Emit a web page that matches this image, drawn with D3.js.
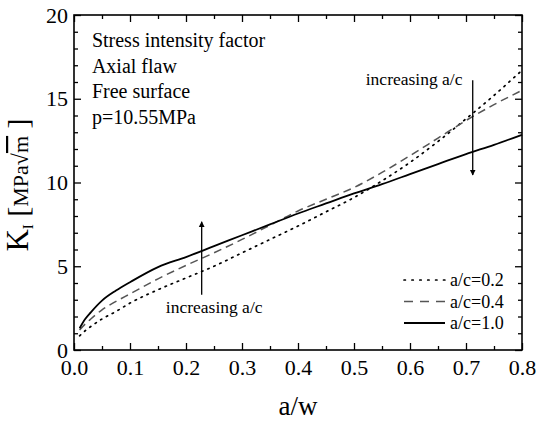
<!DOCTYPE html>
<html lang="en">
<head>
	<meta charset="UTF-8">
	<title>Stress intensity factor - axial flaw</title>
	<script src="https://cdn.jsdelivr.net/npm/d3@7/dist/d3.min.js"></script>
	<style>
		body { margin: 0; background: #fff; }
		svg text { font-family: "Liberation Serif", "Times New Roman", serif; fill: #000; }
	</style>
</head>
<body>
	<div id="container"></div>

	<script>

		// a/w positions and K_I values
		var aw = [0.01, 0.02, 0.03, 0.05, 0.075, 0.1, 0.15, 0.2, 0.25, 0.3, 0.35, 0.4, 0.45, 0.5, 0.55, 0.6, 0.65, 0.7, 0.75, 0.8];
		var k02 = [0.85, 1.15, 1.4, 1.85, 2.3, 2.8, 3.6, 4.3, 5.0, 5.8, 6.6, 7.4, 8.25, 9.1, 10.1, 11.2, 12.45, 13.8, 15.2, 16.7];
		var k04 = [1.2, 1.55, 1.85, 2.4, 2.9, 3.35, 4.25, 5.05, 5.8, 6.6, 7.45, 8.3, 9.0, 9.7, 10.6, 11.6, 12.65, 13.7, 14.65, 15.5];
		var k10 = [1.3, 1.85, 2.25, 2.95, 3.55, 4.05, 4.95, 5.55, 6.2, 6.85, 7.5, 8.15, 8.75, 9.35, 9.9, 10.5, 11.1, 11.7, 12.25, 12.85];

		var seriesNames = ["a/c=0.2", "a/c=0.4", "a/c=1.0"];
		var xMajor = [0, 0.1, 0.2, 0.3, 0.4, 0.5, 0.6, 0.7, 0.8];
		var xMinor = [0.05, 0.15, 0.25, 0.35, 0.45, 0.55, 0.65, 0.75];
		var yMajor = [0, 5, 10, 15, 20];
		var yMinor = [1, 2, 3, 4, 6, 7, 8, 9, 11, 12, 13, 14, 16, 17, 18, 19];
		var noteLines = ["Stress intensity factor", "Axial flaw", "Free surface", "p=10.55MPa"];

		var width = 537;
		var height = 422;
		var margin = {left: 74, right: 15, top: 15, bottom: 72};

		var svg = d3.select("#container").append("svg")
				.attr("width", width)
				.attr("height", height);

		var x = d3.scaleLinear().domain([0, 0.8]).range([margin.left, width - margin.right]);
		var y = d3.scaleLinear().domain([0, 20]).range([height - margin.bottom, margin.top]);

		var styles = [
			{stroke: "#000", width: 1.7, dash: "1.4,5.2", cap: "round"},
			{stroke: "#555", width: 1.5, dash: "8,5", cap: "butt"},
			{stroke: "#000", width: 1.8, dash: null, cap: "butt"}
		];
		var series = [k02, k04, k10];

		// axes (ticks inside on all four sides)
		function drawAxis(axis, tx, ty, vals, size, fmt, pad) {
			var g = svg.append("g")
					.attr("transform", "translate(" + tx + "," + ty + ")")
					.call(axis.tickValues(vals).tickSize(size).tickPadding(pad).tickFormat(fmt));
			g.select(".domain").remove();
			g.selectAll("line").attr("stroke", "#000").attr("stroke-width", 1.3);
			g.selectAll("text").style("font-size", "22px").attr("fill", "#000");
			return g;
		}
		var bottomY = y(0), topY = y(20), leftX = x(0), rightX = x(0.8);
		drawAxis(d3.axisBottom(x), 0, bottomY, xMajor, -7, d3.format(".1f"), 9);
		drawAxis(d3.axisBottom(x), 0, bottomY, xMinor, -4, "", 0);
		drawAxis(d3.axisTop(x), 0, topY, xMajor, -7, "", 0);
		drawAxis(d3.axisTop(x), 0, topY, xMinor, -4, "", 0);
		drawAxis(d3.axisLeft(y), leftX, 0, yMajor, -7, d3.format("d"), 6);
		drawAxis(d3.axisLeft(y), leftX, 0, yMinor, -4, "", 0);
		drawAxis(d3.axisRight(y), rightX, 0, yMajor, -7, "", 0);
		drawAxis(d3.axisRight(y), rightX, 0, yMinor, -4, "", 0);

		svg.append("rect")
				.attr("x", leftX)
				.attr("y", topY)
				.attr("width", rightX - leftX)
				.attr("height", bottomY - topY)
				.attr("fill", "none")
				.attr("stroke", "#000")
				.attr("stroke-width", 1.6);

		// curves
		var line = d3.line()
				.x(function(d){ return x(d[0]); })
				.y(function(d){ return y(d[1]); })
				.curve(d3.curveMonotoneX);

		series.forEach(function(vals, i){
			var pts = aw.map(function(a, j){ return [a, vals[j]]; });
			var st = styles[i];
			svg.append("path")
					.datum(pts)
					.attr("d", line)
					.attr("fill", "none")
					.attr("stroke", st.stroke)
					.attr("stroke-width", st.width)
					.attr("stroke-linecap", st.cap)
					.attr("stroke-dasharray", st.dash);
		});

		// note block
		svg.append("g").selectAll("text")
				.data(noteLines)
			.enter().append("text")
				.attr("x", x(0.032))
				.attr("y", function(d, i){ return 47 + i * 25.5; })
				.style("font-size", "20px")
				.text(function(d){ return d; });

		// arrows
		svg.append("defs").append("marker")
				.attr("id", "head")
				.attr("viewBox", "0 0 10 10")
				.attr("refX", 9).attr("refY", 5)
				.attr("markerWidth", 6).attr("markerHeight", 9)
				.attr("markerUnits", "userSpaceOnUse")
				.attr("orient", "auto")
			.append("path")
				.attr("d", "M0,0L10,5L0,10Z")
				.attr("fill", "#000");

		var arrows = [
			{a: 0.228, from: 3.3, to: 7.65},
			{a: 0.712, from: 16.1, to: 10.45}
		];
		svg.append("g").selectAll("line")
				.data(arrows)
			.enter().append("line")
				.attr("x1", function(d){ return x(d.a); })
				.attr("x2", function(d){ return x(d.a); })
				.attr("y1", function(d){ return y(d.from); })
				.attr("y2", function(d){ return y(d.to); })
				.attr("stroke", "#000")
				.attr("stroke-width", 1.3)
				.attr("marker-end", "url(#head)");

		svg.append("text")
				.attr("x", x(0.521)).attr("y", y(16.1) + 5)
				.style("font-size", "17.5px")
				.text("increasing a/c");
		svg.append("text")
				.attr("x", x(0.164)).attr("y", y(2.5) + 5)
				.style("font-size", "17.5px")
				.text("increasing a/c");

		// legend
		var legend = svg.append("g").selectAll("g")
				.data(seriesNames)
			.enter().append("g")
				.attr("transform", function(d, i){ return "translate(404," + (280 + i * 21.5) + ")"; });
		legend.append("line")
				.attr("x1", 0).attr("x2", 41)
				.attr("stroke", function(d, i){ return styles[i].stroke; })
				.attr("stroke-width", function(d, i){ return styles[i].width; })
				.attr("stroke-linecap", function(d, i){ return styles[i].cap; })
				.attr("stroke-dasharray", function(d, i){ return i === 1 ? "9,7" : (i === 0 ? "1.4,6.5" : null); });
		legend.append("text")
				.attr("x", 46).attr("dy", "0.35em")
				.style("font-size", "18px")
				.text(function(d){ return d; });

		// axis titles
		svg.append("text")
				.attr("x", 298).attr("y", 415)
				.attr("text-anchor", "middle")
				.style("font-size", "27px")
				.text("a/w");

		var yt = svg.append("text")
				.attr("transform", "translate(28,185) rotate(-90)")
				.attr("text-anchor", "middle");
		yt.append("tspan").style("font-size", "31px").text("K");
		yt.append("tspan").style("font-size", "15px").attr("dy", 5).text("I");
		yt.append("tspan").style("font-size", "30px").attr("dy", -5).text(" [");
		yt.append("tspan").style("font-size", "22px").text("MPa√");
		yt.append("tspan").style("font-size", "22px").style("text-decoration", "overline").text("m");
		yt.append("tspan").style("font-size", "30px").text(" ]");

	</script>
</body>
</html>
